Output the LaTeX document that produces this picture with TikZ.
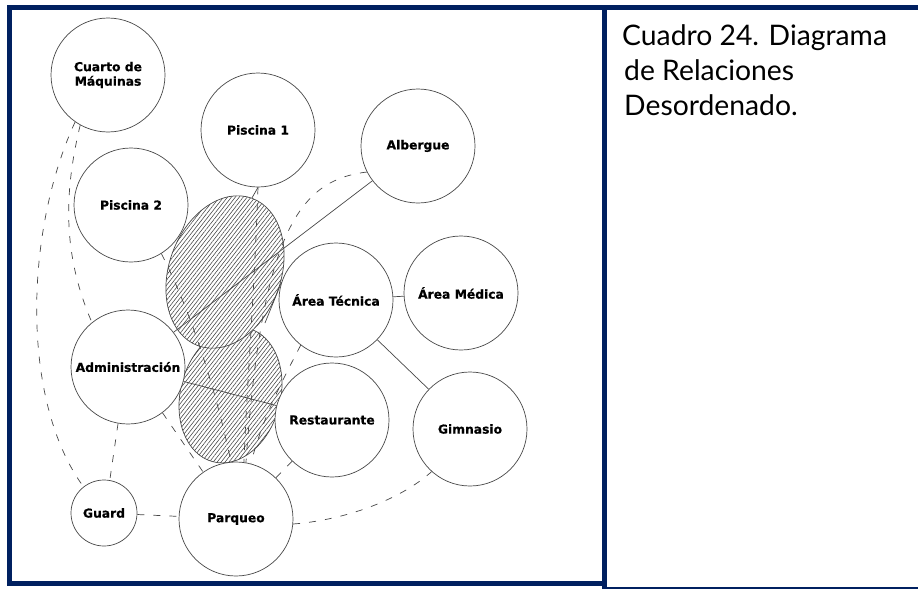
\documentclass[tikz,border=0pt]{standalone}
\usepackage{fontspec}
\newfontfamily\roomlblfont{DejaVu Sans}[BoldFeatures={FakeBold=0.6}]
\newfontfamily\captxtfont{Lato}
\usetikzlibrary{shapes.geometric,patterns.meta}
\definecolor{navy}{RGB}{0,32,96}
\definecolor{ink}{gray}{0.28}
\begin{document}
\begin{tikzpicture}[x=1pt,y=-1pt,
  room/.style={circle, draw=ink, line width=0.7pt, fill=white, minimum size=114pt,
    inner sep=0pt, align=center, font=\roomlblfont\bfseries\fontsize{12.3}{14.5}\selectfont},
  smallroom/.style={room, minimum size=66pt},
  zone/.style={ellipse, draw=ink, line width=0.7pt, inner sep=0pt, preaction={fill=white},
    pattern={Lines[angle=52,distance=3.1pt,line width=0.55pt]}, pattern color=black!75},
  link/.style={draw=ink, line width=0.7pt},
  dlink/.style={link, dash pattern=on 7pt off 9pt},
  capline/.style={anchor=base west, inner sep=0pt, font=\captxtfont\fontsize{28.3}{30}\selectfont}
]
\useasboundingbox (0,0) rectangle (918,589);
% frame
\draw[navy, line width=5pt] (9,7.5) rectangle (604,583);
\draw[navy, line width=5pt] (604,7.5) -- (918,7.5);
\draw[navy, line width=5pt] (604,583) -- (604,588.5);
\draw[navy, line width=1.5pt] (604,587.8) -- (918,587.8);
% caption
\node[capline] (c1) at (622,45) {Cuadro 24. Diagrama};
\node[capline] (c2) at (624,80) {de Relaciones};
\node[capline] (c3) at (624,115) {Desordenado.};
% hatched zones
\node[zone, minimum width=100pt, minimum height=138pt, rotate=-15] (z2) at (230.5,395) {};
\node[zone, minimum width=112pt, minimum height=157pt, rotate=-20] (z1) at (225,272) {};
% rooms
\node[room] (CM) at (108,75) {Cuarto de\\Máquinas};
\node[room] (P1) at (258,130) {Piscina 1};
\node[room] (P2) at (131,205) {Piscina 2};
\node[room] (AL) at (418,146) {Albergue};
\node[room] (AT) at (336,300) {Área Técnica};
\node[room] (AM) at (461,293) {Área Médica};
\node[room] (AD) at (128,367) {Administración};
\node[room] (RE) at (332,420) {Restaurante};
\node[room] (GI) at (470,429) {Gimnasio};
\node[smallroom] (GU) at (104,513) {Guard};
\node[room] (PA) at (236,519) {Parqueo};
\coordinate (zt) at (265,323);
% solid links
\draw[link] (P1.south) -- (z1.north);
\draw[link] (AT.162) -- (zt);
\draw[link] (AL) -- (AD);
\draw[link] (AD) -- (RE);
\draw[link] (AT) -- (AM);
\draw[link] (AT) -- (GI);
% dashed links
\draw[dlink] (CM.235) .. controls (25,230) and (20,400) .. (GU.128);
\draw[dlink] (CM.241) .. controls (62,200) and (65,260) .. (AD.129);
\draw[dlink] (AD.260) -- (GU.80);
\draw[dlink] (AD.307) -- (PA.125);
\draw[dlink] (GU) -- (PA);
\draw[dlink] (RE) -- (PA);
\draw[dlink] (PA.-5) .. controls (345,520) and (400,500) .. (GI.228);
\draw[dlink] (AL.207) .. controls (300,180) and (262,230) .. (PA.80);
\draw[dlink] (P1.south) .. controls (254,300) and (246,400) .. (PA.82);
\draw[dlink] (P2.-58) .. controls (195,320) and (218,400) .. (PA.95);
\draw[dlink] (AT.232) .. controls (280,385) and (262,420) .. (PA.75);
\end{tikzpicture}
\end{document}
